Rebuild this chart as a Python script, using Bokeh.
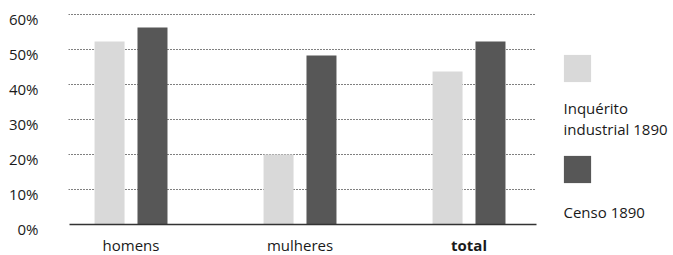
from bokeh.plotting import figure
from bokeh.models import (Range1d, FixedTicker, Legend, LegendItem, Label, LabelSet,
                          ColumnDataSource, Grid)
from bokeh.core.properties import value, field
from bokeh.transform import dodge
from bokeh.embed import file_html
from bokeh.resources import INLINE

# ---- data ----
categories = ["homens", "mulheres", "total"]
category_styles = ["normal", "normal", "bold"]
inquerito_1890 = [52.3, 20.0, 43.7]
censo_1890 = [56.3, 48.3, 52.3]
y_ticks = [0, 10, 20, 30, 40, 50, 60]
y_tick_labels = ["0%", "10%", "20%", "30%", "40%", "50%", "60%"]
series_names = ["Inquérito industrial 1890", "Censo 1890"]

LIGHT = "#d9d9d9"
DARK = "#575757"
FONT = "Open Sans"
TXT = "#1a1a1a"

# ---- ranges / layout constants ----
X0, X1 = -0.37, 3.21          # full frame (includes legend area)
PLOT_X_END = 2.399            # end of the plotting area (grid extent)
Y0, Y1 = -8.857, 64.0
LABEL_SHIFT = 1.3             # tick labels sit slightly below their grid lines

idx = list(range(len(categories)))
src = ColumnDataSource(dict(x=idx, cat=categories, style=category_styles,
                            a=inquerito_1890, b=censo_1890))

p = figure(width=673, height=255, output_backend="svg", toolbar_location=None,
           x_range=Range1d(X0, X1), y_range=Range1d(Y0, Y1),
           x_axis_location=None,
           min_border_left=68, min_border_right=0, min_border_top=0,
           min_border_bottom=0)
p.outline_line_color = None
p.background_fill_color = "white"

bw = 0.1775
r_a = p.vbar(x=dodge("x", -0.127, range=p.x_range), top="a", width=bw, bottom=0,
             source=src, fill_color=LIGHT, line_color=None)
r_b = p.vbar(x=dodge("x", 0.127, range=p.x_range), top="b", width=bw, bottom=0,
             source=src, fill_color=DARK, line_color=None)

has_cb = "cross_bounds" in Grid.properties()

# grid lines (dotted) limited to the plotting area
p.xgrid.grid_line_color = None
p.ygrid.ticker = FixedTicker(ticks=y_ticks[1:])
p.ygrid.grid_line_color = "#000000"
p.ygrid.grid_line_dash = "1 2"
p.ygrid.grid_line_width = 1
if has_cb:
    p.ygrid.cross_bounds = (X0, PLOT_X_END)
    base = Grid(dimension=1, ticker=FixedTicker(ticks=[y_ticks[0]]),
                cross_bounds=(X0 + 0.006, PLOT_X_END), grid_line_color="#333333",
                grid_line_width=1.6, level="guide")
    p.add_layout(base)
else:
    p.ygrid.grid_line_color = None
    p.segment(x0=[X0] * 6, x1=[PLOT_X_END] * 6, y0=y_ticks[1:], y1=y_ticks[1:],
              line_color="#000000", line_dash="1 2", line_width=1, level="underlay")
    p.segment(x0=[X0 + 0.006], x1=[PLOT_X_END], y0=[y_ticks[0]], y1=[y_ticks[0]],
              line_color="#333333", line_width=1.6)

# y axis
ya = p.yaxis[0]
label_pos = [t - LABEL_SHIFT for t in y_ticks]
ya.ticker = FixedTicker(ticks=label_pos)
ya.major_label_overrides = {pos: lab for pos, lab in zip(label_pos, y_tick_labels)}
ya.axis_line_color = None
ya.major_tick_line_color = None
ya.minor_tick_line_color = None
ya.major_tick_out = 0
ya.major_tick_in = 0
ya.major_label_standoff = 30
ya.major_label_text_font = FONT
ya.major_label_text_font_size = "15px"
ya.major_label_text_color = TXT

# category labels
labels = LabelSet(x="x", y=5, y_units="screen", text="cat", source=src,
                  text_align="center", text_baseline="alphabetic",
                  text_font=value(FONT), text_font_size=value("15px"),
                  text_color=TXT, text_font_style=field("style"))
p.add_layout(labels)

# legend squares (legend glyphs are inset by 10% on each side)
legend = Legend(items=[LegendItem(label=" ", renderers=[r_a]),
                       LegendItem(label=" ", renderers=[r_b])],
                location=(492, 69), glyph_width=34, glyph_height=34,
                label_height=20, label_width=0, label_text_font_size="1px",
                spacing=67, padding=0, margin=0, border_line_color=None,
                background_fill_alpha=0, label_standoff=0)
p.add_layout(legend)

# legend texts
for txt, yy in [("Inquérito", 148), ("industrial 1890", 126.5), ("Censo 1890", 44)]:
    p.add_layout(Label(x=495, y=yy, x_units="screen", y_units="screen", text=txt,
                       text_font=FONT, text_font_size="15px", text_color=TXT,
                       text_align="left", text_baseline="alphabetic"))

open("out.html", "w").write(file_html(p, INLINE))
